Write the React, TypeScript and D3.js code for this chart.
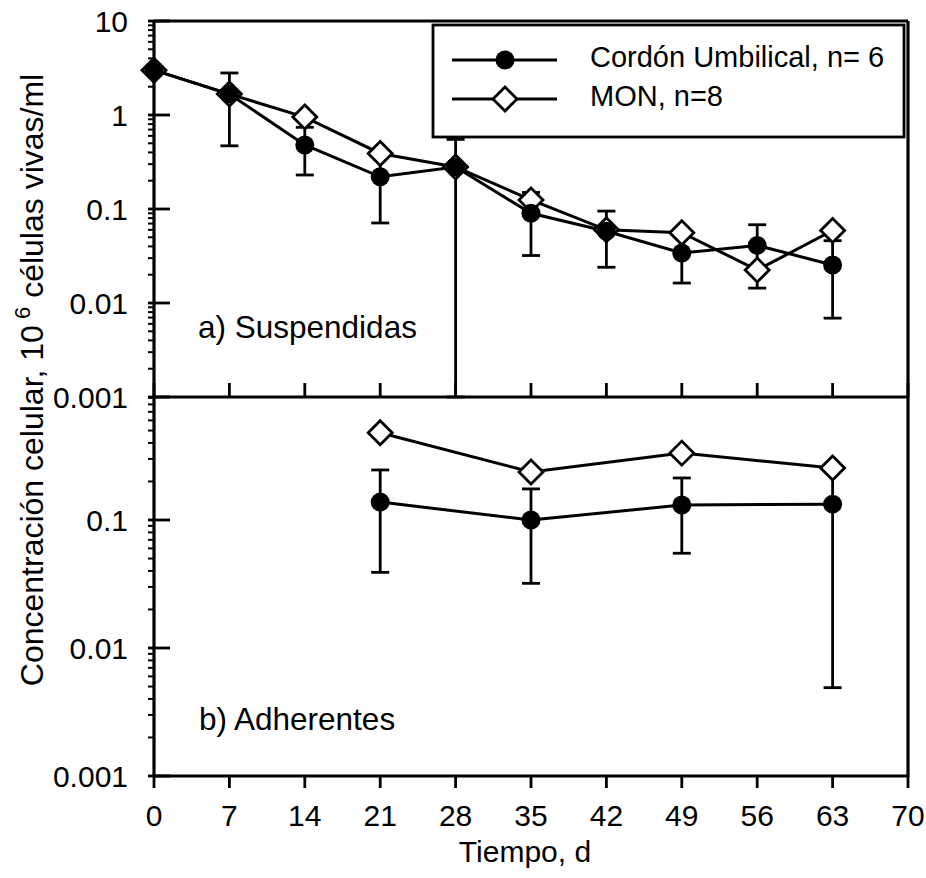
import React from "react";
import * as d3 from "d3";

const days = [0, 7, 14, 21, 28, 35, 42, 49, 56, 63];
const xTicks = [0, 7, 14, 21, 28, 35, 42, 49, 56, 63, 70];

// Panel a) Suspendidas
const cordonSusp = [3.0, 1.67, 0.48, 0.22, 0.28, 0.09, 0.058, 0.034, 0.041, 0.0254];
const cordonSuspHi = [null, 2.8, 0.74, 0.37, 0.55, 0.15, 0.095, 0.052, 0.068, 0.046];
const cordonSuspLo = [null, 0.47, 0.23, 0.071, 0.001, 0.032, 0.024, 0.0163, 0.0144, 0.0069];
const monSusp = [3.0, 1.67, 0.95, 0.39, 0.28, 0.125, 0.06, 0.056, 0.0224, 0.059];

// Panel b) Adherentes
const adhDays = [21, 35, 49, 63];
const cordonAdh = [0.138, 0.1, 0.131, 0.133];
const cordonAdhHi = [0.246, 0.175, 0.213, 0.26];
const cordonAdhLo = [0.039, 0.032, 0.055, 0.0049];
const monAdh = [0.48, 0.237, 0.333, 0.255];

const topTicks = [10, 1, 0.1, 0.01, 0.001];
const topTickLabels = ["10", "1", "0.1", "0.01", "0.001"];
const botTicks = [0.1, 0.01, 0.001];
const botTickLabels = ["0.1", "0.01", "0.001"];

const legendLabels = ["Cordón Umbilical, n= 6", "MON, n=8"];

const FONT = "'Liberation Sans', Arial, Helvetica, sans-serif";

const L = 154, R = 908, T = 21, MID = 397, B = 776;

export default function App() {
  const x = d3.scaleLinear().domain([0, 70]).range([L, R]);
  const yTop = d3.scaleLog().domain([0.001, 10]).range([MID, T]);
  const yBot = d3.scaleLog().domain([0.001, 1]).range([B, 392]);

  const line = (xs: number[], ys: number[], y: any) =>
    d3.line<number>().x((_, i) => x(xs[i])).y((v) => y(v))(ys) || "";

  const minorTicks = (y: any, lo: number, hi: number, yMinPix: number) => {
    const out: number[] = [];
    for (let e = Math.log10(lo); e < Math.log10(hi); e++) {
      for (let m = 2; m <= 9; m++) {
        const v = m * Math.pow(10, e);
        if (y(v) >= yMinPix) out.push(y(v));
      }
    }
    return out;
  };

  const topMinor = minorTicks(yTop, 0.001, 10, T);
  const botMinor = minorTicks(yBot, 0.001, 1, MID);

  const diamond = (cx: number, cy: number, key: string) => {
    const s = 12;
    return (
      <path
        key={key}
        d={`M${cx},${cy - s}L${cx + s},${cy}L${cx},${cy + s}L${cx - s},${cy}Z`}
        fill="white"
        stroke="black"
        strokeWidth={2.8}
      />
    );
  };

  const errorBars = (xs: number[], hi: any[], lo: any[], y: any, pfx: string) =>
    xs.map((d, i) => {
      if (hi[i] == null || lo[i] == null) return null;
      const cx = x(d);
      const y1 = y(hi[i]);
      const y2 = y(lo[i]);
      return (
        <g key={pfx + i} stroke="black" strokeWidth={2.8}>
          <line x1={cx} x2={cx} y1={y1} y2={y2} />
          <line x1={cx - 9} x2={cx + 9} y1={y1} y2={y1} />
          <line x1={cx - 9} x2={cx + 9} y1={y2} y2={y2} />
        </g>
      );
    });

  return (
    <div style={{ position: "absolute", left: 0, top: 0 }}>
      <svg width={926} height={878} style={{ display: "block", background: "white" }} fontFamily={FONT}>
        <rect x={0} y={0} width={926} height={878} fill="white" />

        {/* Error bars */}
        {errorBars(days, cordonSuspHi, cordonSuspLo, yTop, "et")}
        {errorBars(adhDays, cordonAdhHi, cordonAdhLo, yBot, "eb")}

        {/* Lines */}
        <path d={line(days, monSusp, yTop)} fill="none" stroke="black" strokeWidth={3} />
        <path d={line(days, cordonSusp, yTop)} fill="none" stroke="black" strokeWidth={3} />
        <path d={line(adhDays, monAdh, yBot)} fill="none" stroke="black" strokeWidth={3} />
        <path d={line(adhDays, cordonAdh, yBot)} fill="none" stroke="black" strokeWidth={3} />

        {/* Markers */}
        {days.map((d, i) => diamond(x(d), yTop(monSusp[i]), "dt" + i))}
        {days.map((d, i) => (
          <circle key={"ct" + i} cx={x(d)} cy={yTop(cordonSusp[i])} r={9.5} fill="black" />
        ))}
        {adhDays.map((d, i) => diamond(x(d), yBot(monAdh[i]), "db" + i))}
        {adhDays.map((d, i) => (
          <circle key={"cb" + i} cx={x(d)} cy={yBot(cordonAdh[i])} r={9.5} fill="black" />
        ))}

        {/* Frames */}
        <g stroke="black" strokeWidth={3.2} fill="none">
          <line x1={L} x2={R} y1={T} y2={T} />
          <line x1={L} x2={R} y1={MID} y2={MID} />
          <line x1={L} x2={R} y1={B} y2={B} />
          <line x1={L} x2={L} y1={T} y2={B + 1} />
          <line x1={R} x2={R} y1={T} y2={B + 1} />
        </g>

        {/* Y ticks */}
        <g stroke="black" strokeWidth={2.8}>
          {topTicks.map((v) => (
            <line key={"tt" + v} x1={L - 6} x2={L + 16} y1={yTop(v)} y2={yTop(v)} />
          ))}
          {botTicks.map((v) => (
            <line key={"bt" + v} x1={L - 6} x2={L + 16} y1={yBot(v)} y2={yBot(v)} />
          ))}
          {topMinor.map((yy, i) => (
            <line key={"tm" + i} x1={L - 6} x2={L} y1={yy} y2={yy} strokeWidth={2} />
          ))}
          {botMinor.map((yy, i) => (
            <line key={"bm" + i} x1={L - 6} x2={L} y1={yy} y2={yy} strokeWidth={2} />
          ))}
          {/* X ticks */}
          {xTicks.map((d) => (
            <line key={"xt" + d} x1={x(d)} x2={x(d)} y1={MID} y2={MID - 14} />
          ))}
          {xTicks.map((d) => (
            <line key={"xb" + d} x1={x(d)} x2={x(d)} y1={B} y2={B + 12} />
          ))}
        </g>

        {/* Y tick labels */}
        <g fontSize={30} textAnchor="end" fill="black">
          {topTicks.map((v, i) => (
            <text key={"tl" + v} x={128} y={yTop(v)} dy="0.36em">
              {topTickLabels[i]}
            </text>
          ))}
          {botTicks.map((v, i) => (
            <text key={"bl" + v} x={128} y={yBot(v)} dy="0.36em">
              {botTickLabels[i]}
            </text>
          ))}
        </g>

        {/* X tick labels */}
        <g fontSize={30} textAnchor="middle" fill="black">
          {xTicks.map((d) => (
            <text key={"xl" + d} x={x(d)} y={826}>
              {d}
            </text>
          ))}
        </g>

        {/* Axis titles */}
        <text x={525} y={862} fontSize={30} textAnchor="middle">
          Tiempo, d
        </text>
        <text
          transform="translate(43,380) rotate(-90)"
          fontSize={32}
          textAnchor="middle"
        >
          Concentración celular, 10
          <tspan fontSize={22} dy={-13}>{" 6"}</tspan>
          <tspan dy={13}>{" células vivas/ml"}</tspan>
        </text>

        {/* Panel labels */}
        <text x={198} y={338} fontSize={31.5}>a) Suspendidas</text>
        <text x={199} y={730} fontSize={31.5}>b) Adherentes</text>

        {/* Legend */}
        <rect x={433} y={25} width={471} height={112} fill="white" stroke="black" strokeWidth={2.8} />
        <line x1={452} x2={557} y1={60} y2={60} stroke="black" strokeWidth={3} />
        <circle cx={505} cy={60} r={9.5} fill="black" />
        <line x1={452} x2={557} y1={99} y2={99} stroke="black" strokeWidth={3} />
        {diamond(505, 99, "legd")}
        <text x={590} y={67} fontSize={29}>{legendLabels[0]}</text>
        <text x={590} y={106} fontSize={29}>{legendLabels[1]}</text>
      </svg>
    </div>
  );
}
